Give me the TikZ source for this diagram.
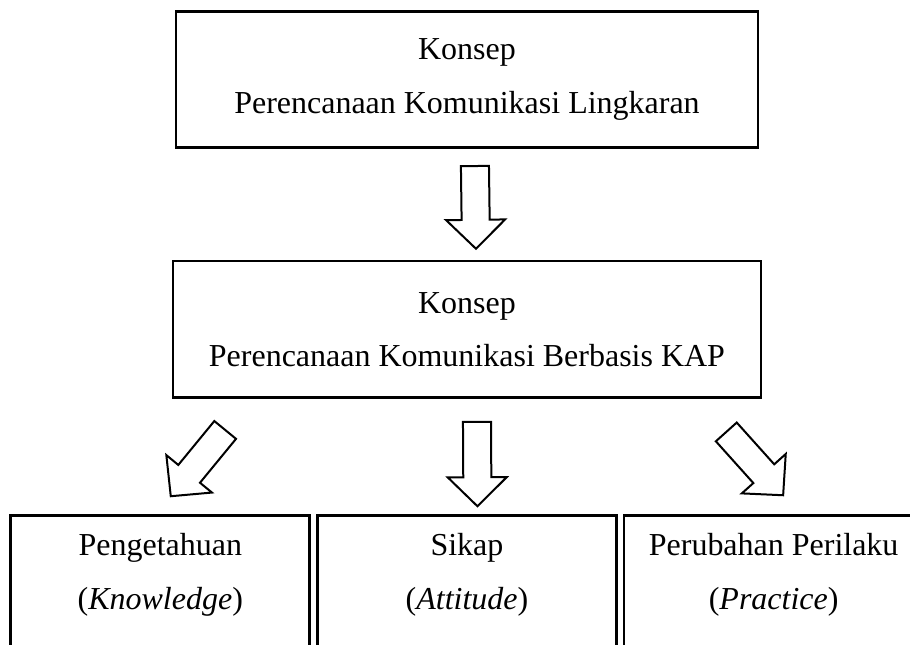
\documentclass[tikz,border=0pt]{standalone}
\usepackage{fontspec}
\setmainfont{Liberation Serif}
\usetikzlibrary{calc,positioning}

% hollow block arrow from tail (#1) to tip (#2)
\newcommand{\hollowarrow}[2]{%
  \coordinate (hb) at ($(#2)!0.382cm!(#1)$);
  \draw[arrowline] ($(#1)!0.185cm!90:(#2)$) -- ($(hb)!0.185cm!90:(#2)$)
    -- ($(hb)!0.389cm!90:(#2)$) -- (#2) -- ($(hb)!0.389cm!-90:(#2)$)
    -- ($(hb)!0.185cm!-90:(#2)$) -- ($(#1)!0.185cm!-90:(#2)$) -- cycle;}

\begin{document}
\begin{tikzpicture}[
  box/.style={draw=black,line width=1pt,minimum height=1.8cm,align=center,
    font=\fontsize{12}{14.4}\selectfont,inner sep=0pt},
  lowbox/.style={box,minimum width=3.943cm,minimum height=1.82cm,text depth=10pt},
  arrowline/.style={draw=black,line width=.75pt,fill=white,line join=miter}
]
  \clip (0,0) rectangle (12,-8.4925);
  \node[box,minimum width=7.675cm] (lingkaran) at (6.158,-1.048)
    {Konsep\\[5.5pt]Perencanaan Komunikasi Lingkaran};
  \node[box,minimum width=7.754cm,below=1.46cm of lingkaran] (kap)
    {Konsep\\[5.5pt]Perencanaan Komunikasi Berbasis KAP};
  \node[lowbox,below=1.52cm of kap] (sikap)
    {Sikap\\[6pt](\textit{Attitude})};
  \node[lowbox,left=0.066cm of sikap] (pengetahuan)
    {Pengetahuan\\[6pt](\textit{Knowledge})};
  \node[lowbox,right=0.066cm of sikap] (perilaku)
    {Perubahan Perilaku\\[6pt](\textit{Practice})};

  % block arrows between the boxes
  \coordinate (t1) at ($(lingkaran.south)+(0.105,-0.224)$);
  \coordinate (h1) at ($(kap.north)+(0.119,0.145)$);
  \hollowarrow{t1}{h1}
  \coordinate (t2) at ($(kap.south)+(0.132,-0.303)$);
  \coordinate (h2) at ($(sikap.north)+(0.138,0.105)$);
  \hollowarrow{t2}{h2}
  \coordinate (t3) at ($(kap.south west)+(0.706,-0.409)$);
  \coordinate (h3) at ($(pengetahuan.north)+(0.138,0.237)$);
  \hollowarrow{t3}{h3}
  \coordinate (t4) at ($(kap.south east)+(-0.475,-0.435)$);
  \coordinate (h4) at ($(perilaku.north)+(0.125,0.25)$);
  \hollowarrow{t4}{h4}
\end{tikzpicture}
\end{document}
